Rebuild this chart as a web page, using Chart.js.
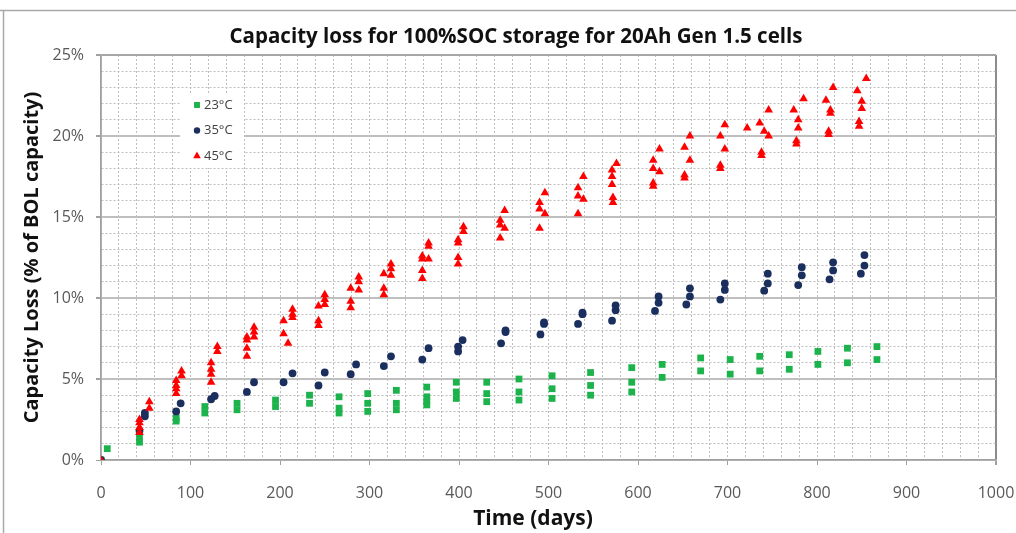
<!DOCTYPE html>
<html>
<head>
<meta charset="utf-8">
<script src="https://cdn.jsdelivr.net/npm/chart.js@4/dist/chart.umd.min.js"></script>
<style>
  html, body { margin: 0; padding: 0; background: #fff; }
  #wrap { width: 1016px; height: 533px; position: relative; }
</style>
</head>
<body>
<div id="wrap"><canvas id="c" width="1016" height="533"></canvas></div>
<script>
// Storage time (days) and capacity loss (% of BOL capacity) per cell check-up
const days23 = [0, 7, 43, 43, 84, 84, 116, 116, 152, 152, 195, 195, 233, 233,
  266, 266, 266, 298, 298, 298, 330, 330, 330, 364, 364, 364, 364,
  397, 397, 397, 431, 431, 431, 467, 467, 467, 504, 504, 504,
  547, 547, 547, 593, 593, 593, 627, 627, 670, 670, 703, 703,
  736, 736, 769, 769, 801, 801, 834, 834, 867, 867];
const loss23 = [0, 0.7, 1.4, 1.1, 2.6, 2.4, 3.3, 2.9, 3.5, 3.1, 3.7, 3.3, 4.0, 3.5,
  3.9, 3.2, 2.9, 4.1, 3.5, 3.0, 4.3, 3.5, 3.1, 4.5, 3.9, 3.6, 3.4,
  4.8, 4.2, 3.8, 4.8, 4.1, 3.6, 5.0, 4.2, 3.7, 5.2, 4.4, 3.8,
  5.4, 4.6, 4.0, 5.7, 4.8, 4.2, 5.9, 5.1, 6.3, 5.5, 6.2, 5.3,
  6.4, 5.5, 6.5, 5.6, 6.7, 5.9, 6.9, 6.0, 7.0, 6.2];

const days35 = [0, 43, 49, 49, 84, 89, 123, 127, 163, 171, 204, 214, 243, 250,
  279, 285, 316, 324, 359, 366, 399, 399, 404, 447, 452, 452,
  491, 495, 495, 533, 538, 538, 571, 575, 575, 619, 623, 623,
  654, 658, 658, 692, 697, 697, 741, 745, 745, 779, 783, 783,
  814, 818, 818, 849, 853, 853];
const loss35 = [0, 1.8, 2.7, 2.9, 3.0, 3.5, 3.75, 3.95, 4.2, 4.8, 4.8, 5.35, 4.6, 5.4,
  5.3, 5.9, 5.8, 6.4, 6.2, 6.9, 6.7, 7.0, 7.4, 7.2, 7.9, 8.0,
  7.75, 8.4, 8.5, 8.4, 9.0, 9.1, 8.6, 9.25, 9.55, 9.2, 9.7, 10.1,
  9.6, 10.1, 10.6, 9.9, 10.5, 10.9, 10.45, 10.9, 11.5, 10.8, 11.4, 11.9,
  11.15, 11.7, 12.2, 11.5, 12.0, 12.65];

const days45 = [0, 43, 43, 43, 43, 54, 54, 84, 84, 84, 84, 90, 90,
  123, 123, 123, 123, 130, 130, 163, 163, 163, 163, 171, 171, 171,
  204, 204, 209, 214, 214, 214, 243, 243, 243, 250, 250, 250,
  279, 279, 279, 288, 288, 288, 316, 316, 316, 324, 324, 324,
  359, 359, 359, 359, 366, 366, 366, 399, 399, 399, 399, 405, 405,
  446, 446, 446, 451, 451, 490, 490, 490, 496, 496,
  533, 533, 533, 539, 539, 571, 571, 571, 572, 572, 576,
  617, 617, 617, 617, 624, 624, 652, 652, 652, 658, 658,
  692, 692, 692, 697, 697, 722, 736, 738, 738, 741, 746, 746,
  774, 777, 777, 779, 779, 785, 810, 813, 813, 815, 815, 818,
  845, 847, 847, 850, 850, 855];
const loss45 = [0, 2.5, 2.3, 2.0, 1.7, 3.6, 3.2, 4.9, 4.6, 4.4, 4.1, 5.5, 5.2,
  6.0, 5.6, 5.3, 4.8, 7.0, 6.7, 7.6, 7.4, 6.9, 6.4, 8.2, 7.9, 7.6,
  8.6, 7.8, 7.2, 9.3, 9.0, 8.8, 9.5, 8.6, 8.3, 10.2, 9.9, 9.6,
  10.6, 9.8, 9.4, 11.3, 11.0, 10.5, 11.5, 10.6, 10.2, 12.1, 11.8, 11.4,
  12.6, 12.4, 11.7, 11.2, 13.4, 13.2, 12.4, 13.6, 13.4, 12.5, 12.1, 14.4, 14.1,
  14.8, 14.5, 13.7, 15.4, 14.3, 15.9, 15.5, 14.3, 16.5, 15.2,
  16.8, 16.3, 15.2, 17.5, 16.1, 17.9, 17.5, 17.0, 16.2, 15.9, 18.3,
  18.5, 18.0, 17.1, 16.9, 19.2, 17.8, 19.3, 17.6, 17.4, 20.0, 18.5,
  20.0, 18.2, 18.0, 20.7, 19.2, 20.5, 20.8, 19.0, 18.8, 20.3, 21.6, 20.0,
  21.6, 19.7, 19.5, 21.0, 20.5, 22.3, 22.2, 20.3, 20.1, 21.6, 21.4, 23.0,
  22.8, 20.9, 20.6, 22.15, 21.7, 23.55];

const seriesLabels = ['23°C', '35°C', '45°C'];
const chartTitle = 'Capacity loss for 100%SOC storage for 20Ah Gen 1.5 cells';
const xTitle = 'Time (days)';
const yTitle = 'Capacity Loss (% of BOL capacity)';

const FONT = "'Open Sans', 'DejaVu Sans', sans-serif";
const pairs = (xs, ys) => xs.map((x, i) => ({ x: x, y: ys[i] }));

// white page, outer frame lines
const frame = {
  id: 'frame',
  beforeDraw(chart) {
    const c = chart.ctx;
    c.save();
    c.fillStyle = '#fff';
    c.fillRect(0, 0, chart.width, chart.height);
    c.strokeStyle = '#a9a9a9';
    c.lineWidth = 1.5;
    c.beginPath();
    c.moveTo(0, 10.5); c.lineTo(chart.width, 10.5);
    c.moveTo(3.5, 10); c.lineTo(3.5, chart.height);
    c.stroke();
    c.restore();
  }
};

// chart heading and horizontal axis caption
const headings = {
  id: 'headings',
  afterDraw(chart) {
    const c = chart.ctx;
    c.save();
    c.fillStyle = '#111';
    c.textAlign = 'center';
    c.textBaseline = 'middle';
    c.font = "bold 20.5px " + FONT;
    c.fillText(chartTitle, 516, 37);
    c.font = "bold 21px " + FONT;
    c.fillText(xTitle, 533, 519);
    c.restore();
  }
};

// key box inside the plot area
const keyBox = {
  id: 'keyBox',
  afterDatasetsDraw(chart) {
    const c = chart.ctx;
    const a = chart.chartArea;
    c.save();
    c.fillStyle = '#fff';
    c.fillRect(a.left + 79, a.top + 38, 64, 75);
    const sizes = [4.2, 3.2, 4.4];
    chart.data.datasets.forEach((ds, i) => {
      const x = a.left + 96;
      const y = a.top + 50 + i * 25.5;
      c.fillStyle = ds.backgroundColor;
      Chart.helpers.drawPoint(c, { pointStyle: ds.pointStyle, radius: sizes[i], rotation: 0, borderWidth: 0 }, x, y);
      c.fillStyle = '#404040';
      c.font = "13px " + FONT;
      c.textAlign = 'left';
      c.textBaseline = 'middle';
      c.fillText(ds.label, x + 7, y);
    });
    c.restore();
  }
};

new Chart(document.getElementById('c'), {
  type: 'scatter',
  data: {
    datasets: [
      { label: seriesLabels[0], data: pairs(days23, loss23), pointStyle: 'rect', pointRadius: 4.8,
        backgroundColor: '#1db34c', borderColor: '#1db34c', borderWidth: 0, order: 3 },
      { label: seriesLabels[1], data: pairs(days35, loss35), pointStyle: 'circle', pointRadius: 3.9,
        backgroundColor: '#1b2f5e', borderColor: '#1b2f5e', borderWidth: 0, order: 2 },
      { label: seriesLabels[2], data: pairs(days45, loss45), pointStyle: 'triangle', pointRadius: 5,
        backgroundColor: '#ff0000', borderColor: '#ff0000', borderWidth: 0, order: 1 }
    ]
  },
  options: {
    responsive: false,
    animation: false,
    devicePixelRatio: 1,
    layout: { padding: { left: 0, right: 20, top: 55, bottom: 0 } },
    plugins: { legend: { display: false }, tooltip: { enabled: false }, title: { display: false } },
    scales: {
      x: {
        type: 'linear', min: 0, max: 1000,
        afterFit: s => { s.height = 73; s.paddingRight = 0; s.paddingLeft = 0; },
        ticks: {
          stepSize: 20, autoSkip: false, maxRotation: 0, padding: 19,
          color: '#595959', font: { family: FONT, size: 16 },
          callback: v => (v % 100 === 0 ? String(v) : '')
        },
        grid: {
          color: c => (c.tick.value === 1000 ? '#8c8c8c' : '#bdbdbd'),
          lineWidth: c => (c.tick.value === 1000 ? 2 : 1),
          tickLength: 5,
          tickColor: c => (c.tick.value % 100 === 0 ? '#a0a0a0' : 'rgba(0,0,0,0)')
        },
        border: {
          color: '#a0a0a0', width: 1.5,
          dash: c => (c.tick && c.tick.value > 0 && c.tick.value < 1000 ? [2, 2] : [])
        }
      },
      y: {
        type: 'linear', min: 0, max: 25,
        afterFit: s => { s.width = 101; },
        ticks: {
          stepSize: 1, autoSkip: false, padding: 12,
          color: '#595959', font: { family: FONT, size: 16 },
          callback: v => (v % 5 === 0 ? v + '%' : '')
        },
        grid: {
          color: c => (c.tick.value === 25 ? '#a6a6a6' : (c.tick.value % 5 === 0 ? '#bfbfbf' : '#bdbdbd')),
          lineWidth: c => (c.tick.value % 5 === 0 && c.tick.value > 0 ? 2 : 1),
          tickLength: 5,
          tickColor: c => (c.tick.value % 5 === 0 ? '#a0a0a0' : 'rgba(0,0,0,0)')
        },
        border: {
          color: '#a0a0a0', width: 1.5,
          dash: c => (c.tick && c.tick.value % 5 !== 0 ? [2, 2] : [])
        },
        title: {
          display: true, text: yTitle, color: '#111',
          font: { family: FONT, size: 20, weight: 'bold' },
          padding: { top: 20, bottom: 0 }
        }
      }
    }
  },
  plugins: [frame, headings, keyBox]
});
</script>
</body>
</html>
